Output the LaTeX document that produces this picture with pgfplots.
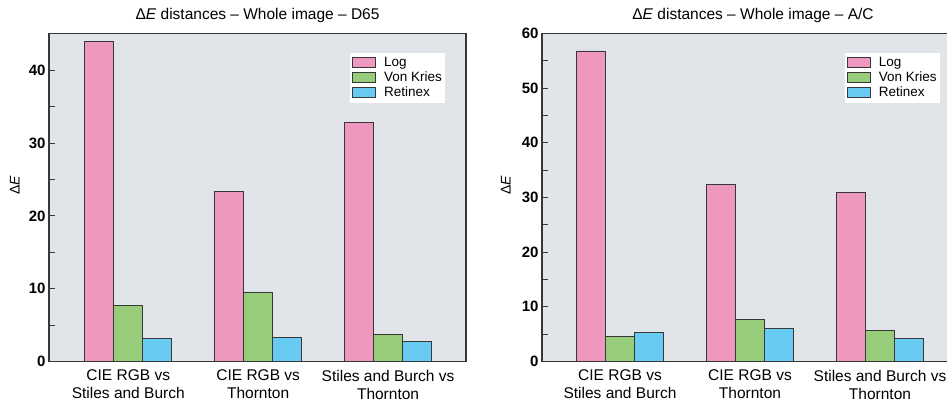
\documentclass[border=0pt]{standalone}
\usepackage{pgfplots}
\pgfplotsset{compat=1.18}
\usepackage{fontspec}
\setmainfont{Liberation Sans}
\definecolor{cpink}{RGB}{238,151,191}
\definecolor{cgreen}{RGB}{151,204,123}
\definecolor{cblue}{RGB}{104,203,243}
\definecolor{cbg}{RGB}{225,228,233}
\definecolor{cline}{RGB}{55,55,55}
\pgfplotsset{
 mystyle/.style={
  scale only axis, height=328pt,
  ybar=0pt, bar width=29pt,
  ymin=0,
  xtick={0,1,2},
  xticklabels={{CIE RGB vs\\Stiles and Burch},{CIE RGB vs\\Thornton},{Stiles and Burch vs\\Thornton}},
  axis background/.style={fill=cbg},
  axis line style={cline, line width=1.2pt},
  tick style={cline, line width=1pt},
  major tick length=6pt, minor tick length=6pt,
  tick align=inside,
  ytick pos=left,
  xtick style={draw=none},
  xticklabel style={font=\fontsize{15.5}{18}\selectfont, align=center, yshift=-5pt},
  yticklabel style={font=\fontsize{15}{17}\selectfont\bfseries},
  /pgf/number format/assume math mode=true,
  title style={font=\fontsize{15.5}{17}\selectfont, at={(0.5,1)}, anchor=base, yshift=7.5pt},
  ylabel={Δ\textit{E}},
  ylabel style={font=\fontsize{14}{16}\selectfont},
  legend style={draw=none, fill=white, anchor=north west, font=\fontsize{13.5}{15}\selectfont,
    inner xsep=2pt, inner ysep=2.5pt, row sep=0pt, column sep=7pt,
    nodes={inner sep=1pt, text height=10pt, text depth=3pt}},
  legend cell align=left,
  legend image code/.code={\draw[##1, line width=0.8pt] (0pt,-5pt) rectangle (23pt,5pt);},
  every axis plot/.append style={draw=cline, line width=0.9pt},
 }
}
\begin{document}
\begin{tikzpicture}
\begin{axis}[mystyle, at={(49pt,41.5pt)}, anchor=south west,
  width=417pt, xmin=-0.61, xmax=2.6, ymax=45.07,
  ytick={0,10,20,30,40}, minor ytick={5,15,25,35},
  title={Δ\textit{E} distances – Whole image – D65},
  ylabel style={at={(axis description cs:-0.082,0.537)}, anchor=center},
  legend style={at={(rel axis cs:0.722,0.942)}}]
\addplot[fill=cpink] coordinates {(0,44.0) (1,23.4) (2,32.8)};
\addplot[fill=cgreen] coordinates {(0,7.64) (1,9.55) (2,3.76)};
\addplot[fill=cblue] coordinates {(0,3.18) (1,3.26) (2,2.71)};
\legend{Log, Von Kries, Retinex}
\end{axis}
\begin{axis}[mystyle, at={(542pt,41.5pt)}, anchor=south west,
  width=416pt, xmin=-0.6, xmax=2.6, ymax=60,
  ytick={0,10,20,30,40,50,60}, minor ytick={5,15,25,35,45,55},
  title={Δ\textit{E} distances – Whole image – A/C},
  title style={xshift=3pt},
  ylabel style={at={(axis description cs:-0.087,0.537)}, anchor=center},
  legend style={at={(rel axis cs:0.728,0.942)}}]
\addplot[fill=cpink] coordinates {(0,56.8) (1,32.3) (2,31.0)};
\addplot[fill=cgreen] coordinates {(0,4.56) (1,7.74) (2,5.66)};
\addplot[fill=cblue] coordinates {(0,5.29) (1,5.97) (2,4.2)};
\legend{Log, Von Kries, Retinex}
\end{axis}
\pgfresetboundingbox
\useasboundingbox (0,0) rectangle (947pt,403pt);
\end{tikzpicture}
\end{document}
